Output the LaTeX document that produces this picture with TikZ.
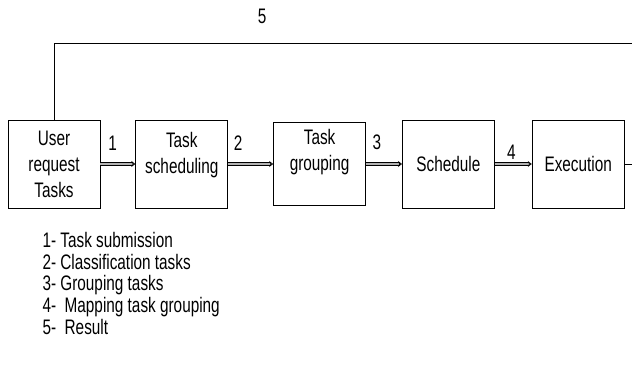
\documentclass[tikz,border=0pt]{standalone}
\usepackage{fontspec}
\setmainfont{Liberation Sans}[FakeStretch=0.73]
\usetikzlibrary{arrows.meta,positioning}

\begin{document}
\begin{tikzpicture}[
    x=1pt, y=-1pt,
    font=\fontsize{21}{26}\selectfont,
    node distance=35pt,
    box/.style={draw, line width=0.8pt, align=center, minimum width=92pt, minimum height=88pt, inner sep=2pt},
    flow/.style={double=gray!60, double distance=1.8pt, line width=0.8pt, -{Stealth[open, length=4pt, width=6pt]}},
    num/.style={inner sep=1pt},
    back/.style={line width=0.8pt}
  ]
    \useasboundingbox (0,0) rectangle (632,374);
    \node[box] (user) at (54,164) {User\\request\\Tasks};
    \node[box, right=of user, text depth=23pt] (sched) {Task\\scheduling};
    \node[box, right=45pt of sched, minimum height=83pt, text depth=29pt] (group) {Task\\grouping};
    \node[box, right=36pt of group] (schedule) {Schedule};
    \node[box, right=37pt of schedule] (exec) {Execution};
    \draw[flow] (user.east) -- node[num, pos=0.35, above=12pt] {1} (sched.west);
    \draw[flow] (sched.east) -- node[num, pos=0.22, above=12pt] {2} (group.west);
    \draw[flow] (group.east) -- node[num, pos=0.3, above=13pt] {3} (schedule.west);
    \draw[flow] (schedule.east) -- node[num, pos=0.45, above=3pt] {4} (exec.west);
    % return path
    \coordinate (ret1) at (exec.east -| 632,0);
    \coordinate (ret2) at (632,43);
    \coordinate (ret3) at (user.north |- 0,43);
    \draw[back] (exec.east) -- (ret1) -- (ret2) -- node[num, pos=0.64, above=18pt] {5} (ret3) -- (user.north);
    \node[anchor=north west, align=left, font=\fontsize{21}{21.6}\selectfont] (legend) at (39,229)
      {1- Task submission\\
       2- Classification tasks\\
       3- Grouping tasks\\
       4-\ \ Mapping task grouping\\
       5-\ \ Result};
  \end{tikzpicture}
\end{document}
